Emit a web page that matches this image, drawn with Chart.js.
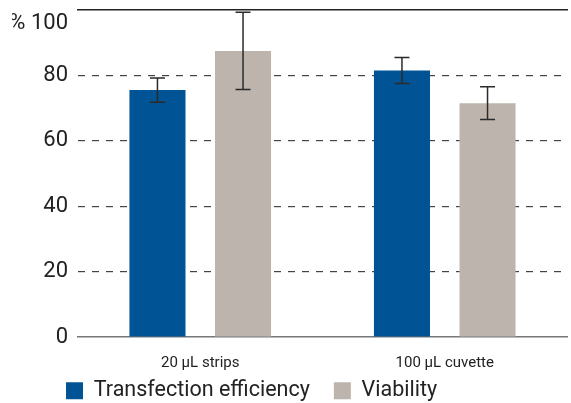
<!DOCTYPE html>
<html>
<head>
  <meta charset="utf-8" />
  <title>Transfection efficiency and viability</title>
  <script src="https://cdn.jsdelivr.net/npm/chart.js"></script>
  <style>
    body { margin: 0; background: #fff; }
    #wrap { width: 571px; height: 403px; }
  </style>
</head>
<body>
  <div id="wrap"><canvas id="barChart"></canvas></div>
  <script>
    const categories = ['20 µL strips', '100 µL cuvette'];
    const transfection = [75.5, 81.5];
    const transfectionErr = [3.7, 4.0];
    const viability = [87.5, 71.5];
    const viabilityErr = [11.8, 5.0];
    const yTicks = [0, 20, 40, 60, 80, 100];

    // error bars drawn from the y scale
    const errorBars = {
      id: 'errorBars',
      afterDatasetsDraw(chart) {
        const ctx = chart.ctx;
        const y = chart.scales.y;
        chart.data.datasets.forEach((ds, i) => {
          const meta = chart.getDatasetMeta(i);
          meta.data.forEach((bar, j) => {
            const v = ds.data[j], e = ds.errors[j];
            const top = y.getPixelForValue(v + e);
            const bot = y.getPixelForValue(v - e);
            ctx.save();
            ctx.strokeStyle = '#2a2a2a';
            ctx.lineWidth = 1.5;
            ctx.beginPath();
            ctx.moveTo(bar.x, top); ctx.lineTo(bar.x, bot);
            ctx.moveTo(bar.x - 7.5, top); ctx.lineTo(bar.x + 7.5, top);
            ctx.moveTo(bar.x - 7.5, bot); ctx.lineTo(bar.x + 7.5, bot);
            ctx.stroke();
            ctx.restore();
          });
        });
      }
    };

    // legend is not centred in the original, move it left
    const legendShift = {
      id: 'legendShift',
      afterLayout(chart) {
        chart.legend.left = 58;
      }
    };

    new Chart(document.getElementById('barChart'), {
      type: 'bar',
      data: {
        labels: categories,
        datasets: [{
          label: 'Transfection efficiency',
          data: transfection,
          errors: transfectionErr,
          backgroundColor: '#005495'
        }, {
          label: 'Viability',
          data: viability,
          errors: viabilityErr,
          backgroundColor: '#bdb5ad'
        }]
      },
      options: {
        responsive: true,
        maintainAspectRatio: false,
        animation: false,
        barPercentage: 0.655,
        categoryPercentage: 0.7,
        layout: { padding: { left: 12, right: 4, top: 0, bottom: -8.5 } },
        plugins: {
          tooltip: { enabled: false },
          legend: {
            position: 'bottom',
            align: 'start',
            labels: {
              boxWidth: 17,
              boxHeight: 17,
              padding: 8,
              color: '#222',
              font: { family: 'Roboto', size: 21.5 },
              // a few spaces after the first label widen the gap between items
              generateLabels: chart => Chart.defaults.plugins.legend.labels.generateLabels(chart)
                .map((l, i) => i === 0 ? { ...l, text: l.text + '   ' } : l)
            }
          }
        },
        scales: {
          x: {
            grid: { display: false, drawTicks: false },
            border: { color: '#777', width: 1.5 },
            afterFit: s => { s.height = 35; },
            ticks: { color: '#222', padding: 17, font: { family: 'Roboto', size: 15 } }
          },
          xTop: {
            position: 'top',
            grid: { display: false, drawTicks: false },
            border: { color: '#222', width: 1.5 },
            ticks: { display: false }
          },
          y: {
            min: 0,
            max: 100,
            afterBuildTicks: s => { s.ticks = yTicks.map(v => ({ value: v })); },
            afterFit: s => { s.paddingTop = 10; s.width = 66; },
            border: { display: false, dash: [7, 7] },
            grid: {
              drawTicks: false,
              lineWidth: 1.2,
              color: c => (c.tick.value === 0 || c.tick.value === 100) ? 'rgba(0,0,0,0)' : '#444'
            },
            ticks: {
              color: '#222',
              padding: 10,
              font: { family: 'Roboto', size: 22 },
              callback: v => v === 100 ? ['', '% 100'] : v
            }
          }
        }
      },
      plugins: [errorBars, legendShift]
    });
  </script>
</body>
</html>
